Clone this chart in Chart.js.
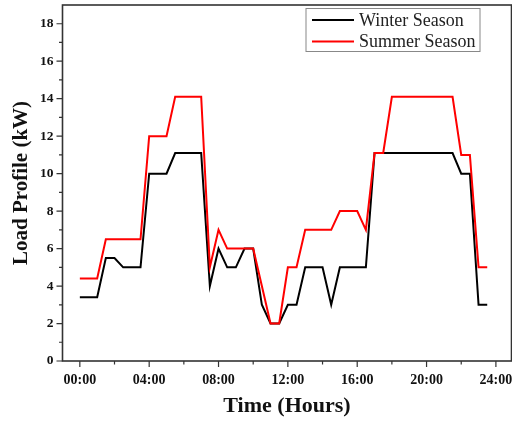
<!DOCTYPE html>
<html>
<head>
<meta charset="utf-8">
<script src="https://cdn.jsdelivr.net/npm/chart.js@4/dist/chart.umd.min.js"></script>
<style>
html,body{margin:0;padding:0;background:#fff;}
canvas{display:block;}
</style>
</head>
<body>
<canvas id="c" width="512" height="421"></canvas>
<script>
const hours = [0,0.5,1,1.5,2,2.5,3,3.5,4,4.5,5,5.5,6,6.5,7,7.5,8,8.5,9,9.5,10,10.5,11,11.5,
               12,12.5,13,13.5,14,14.5,15,15.5,16,16.5,17,17.5,18,18.5,19,19.5,20,20.5,21,21.5,22,22.5,23,23.5];
const winter = [3.4,3.4,3.4,5.5,5.5,5,5,5,10,10,10,11.1,11.1,11.1,11.1,4,6,5,5,6,6,3,2,2,
                3,3,5,5,5,3,5,5,5,5,11.1,11.1,11.1,11.1,11.1,11.1,11.1,11.1,11.1,11.1,10,10,3,3];
const summer = [4.4,4.4,4.4,6.5,6.5,6.5,6.5,6.5,12,12,12,14.1,14.1,14.1,14.1,5,7,6,6,6,6,4,2,2,
                5,5,7,7,7,7,8,8,8,7,11.1,11.1,14.1,14.1,14.1,14.1,14.1,14.1,14.1,14.1,11,11,5,5];
const xTicks = [0,2,4,6,8,10,12,14,16,18,20,22,24];
const xTickLabels = ['00:00','','04:00','','08:00','','12:00','','16:00','','20:00','','24:00'];
const yTicks = [0,1,2,3,4,5,6,7,8,9,10,11,12,13,14,15,16,17,18];
const yTickLabels = ['0','','2','','4','','6','','8','','10','','12','','14','','16','','18'];
const seriesNames = ['Winter Season','Summer Season'];
const seriesColors = ['#000000','#ff0000'];

const AXIS = '#333333';

const frameTicks = {
  id: 'frameTicks',
  afterDraw(chart) {
    const ctx = chart.ctx, a = chart.chartArea;
    const xs = chart.scales.x, ys = chart.scales.y;
    ctx.save();
    ctx.strokeStyle = AXIS;
    ctx.lineWidth = 1.6;
    ctx.strokeRect(a.left, a.top, a.right - a.left, a.bottom - a.top);
    ctx.lineWidth = 1.2;
    ctx.beginPath();
    xTicks.forEach((v, i) => {
      const px = xs.getPixelForValue(v);
      const len = xTickLabels[i] ? 6 : 3.5;
      ctx.moveTo(px, a.bottom); ctx.lineTo(px, a.bottom + len);
    });
    yTicks.forEach((v, i) => {
      const py = ys.getPixelForValue(v);
      const len = yTickLabels[i] ? 6 : 3.5;
      ctx.moveTo(a.left, py); ctx.lineTo(a.left - len, py);
    });
    ctx.stroke();

    // legend box
    const bx = 306, by = 8.5, bw = 174, bh = 43;
    ctx.fillStyle = '#fff';
    ctx.fillRect(bx, by, bw, bh);
    ctx.strokeStyle = '#888';
    ctx.lineWidth = 1;
    ctx.strokeRect(bx, by, bw, bh);
    ctx.font = '18px "Liberation Serif"';
    ctx.textBaseline = 'middle';
    ctx.textAlign = 'left';
    chart.data.datasets.forEach((ds, i) => {
      const yy = by + 11.5 + i * 21.5;
      ctx.strokeStyle = ds.borderColor;
      ctx.lineWidth = 2;
      ctx.beginPath();
      ctx.moveTo(bx + 6, yy); ctx.lineTo(bx + 48, yy);
      ctx.stroke();
      ctx.fillStyle = '#222';
      ctx.fillText(ds.label, bx + 53, yy + 1);
    });
    ctx.restore();
  }
};

new Chart(document.getElementById('c'), {
  type: 'line',
  data: {
    datasets: [
      { label: seriesNames[0], data: hours.map((h, i) => ({x: h, y: winter[i]})),
        borderColor: seriesColors[0], backgroundColor: seriesColors[0], borderWidth: 2,
        pointRadius: 0, tension: 0, fill: false, order: 1 },
      { label: seriesNames[1], data: hours.map((h, i) => ({x: h, y: summer[i]})),
        borderColor: seriesColors[1], backgroundColor: seriesColors[1], borderWidth: 2,
        pointRadius: 0, tension: 0, fill: false, order: 0 }
    ]
  },
  options: {
    responsive: false,
    animation: false,
    events: [],
    layout: { padding: { top: 5, right: 0.5, left: 0, bottom: 0 } },
    plugins: { legend: { display: false }, tooltip: { enabled: false } },
    scales: {
      x: {
        type: 'linear', min: -1, max: 24.9,
        afterBuildTicks(s) { s.ticks = xTicks.map(v => ({value: v})); },
        afterFit(s) { s.height = 60; s.paddingLeft = 0; s.paddingRight = 0; },
        grid: { display: false, drawTicks: false },
        border: { display: false },
        ticks: {
          autoSkip: false, maxRotation: 0, padding: 11,
          color: '#111',
          font: { family: '"Liberation Serif"', size: 14, weight: 'bold' },
          callback: (v) => { const i = xTicks.indexOf(v); return i >= 0 ? xTickLabels[i] : ''; }
        },
        title: {
          display: true, text: 'Time (Hours)', color: '#111',
          font: { family: '"Liberation Serif"', size: 22, weight: 'bold' },
          padding: { top: 0, bottom: 1 }
        }
      },
      y: {
        min: 0, max: 19,
        afterBuildTicks(s) { s.ticks = yTicks.map(v => ({value: v})); },
        afterFit(s) { s.width = 62.5; s.paddingTop = 0; s.paddingBottom = 0; },
        grid: { display: false, drawTicks: false },
        border: { display: false },
        ticks: {
          autoSkip: false, padding: 9,
          color: '#111',
          font: { family: '"Liberation Serif"', size: 13.5, weight: 'bold' },
          callback: (v) => { const i = yTicks.indexOf(v); return i >= 0 ? yTickLabels[i] : ''; }
        },
        title: {
          display: true, text: 'Load Profile (kW)', color: '#111',
          font: { family: '"Liberation Serif"', size: 21, weight: 'bold' },
          padding: { top: 9, bottom: 0 }
        }
      }
    }
  },
  plugins: [frameTicks]
});
</script>
</body>
</html>
